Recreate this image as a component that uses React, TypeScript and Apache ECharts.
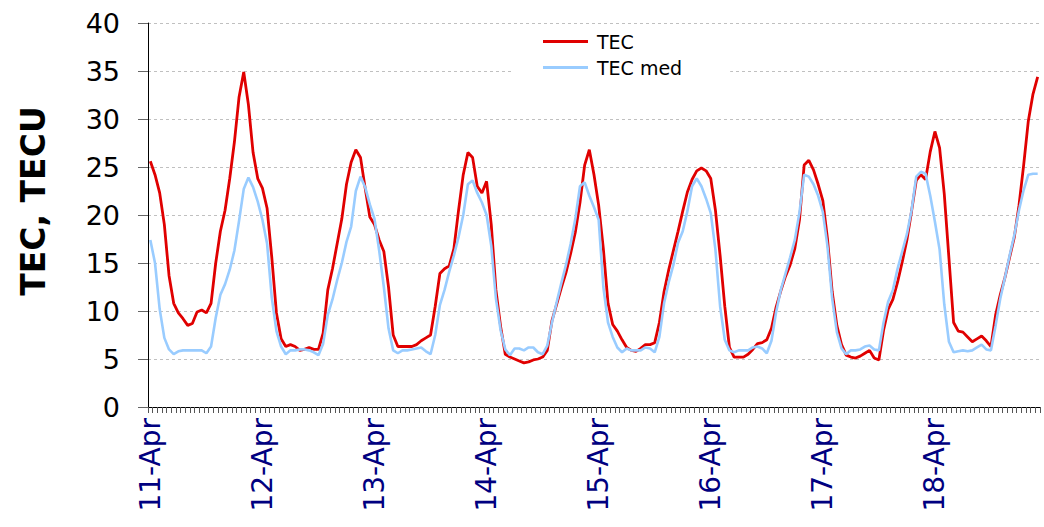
import React, { useEffect, useRef } from "react";
import * as echarts from "echarts";

const DAYS = ["11-Apr", "12-Apr", "13-Apr", "14-Apr", "15-Apr", "16-Apr", "17-Apr", "18-Apr"];
const Y_TICKS = [0, 5, 10, 15, 20, 25, 30, 35, 40];

// Hourly TEC values (TECU)
const TEC = [
  25.6, 24.2, 22.3, 19.0, 13.7, 10.8, 9.8, 9.2, 8.5, 8.7, 9.9, 10.1, 9.8, 10.8, 15.0, 18.3, 20.5, 23.8, 27.6, 32.3, 34.9, 31.5, 26.5, 23.8,
  22.8, 20.7, 15.6, 9.8, 7.1, 6.3, 6.5, 6.3, 5.9, 6.0, 6.2, 6.0, 6.0, 7.7, 12.2, 14.4, 17.0, 19.6, 23.2, 25.5, 26.8, 26.0, 22.8, 19.8,
  19.0, 17.4, 16.2, 12.5, 7.5, 6.3, 6.3, 6.3, 6.3, 6.5, 6.9, 7.2, 7.5, 10.5, 13.9, 14.4, 14.7, 16.5, 20.5, 24.2, 26.5, 26.0, 23.0, 22.3,
  23.5, 19.0, 12.2, 8.4, 5.5, 5.2, 5.0, 4.8, 4.6, 4.7, 4.9, 5.0, 5.2, 5.9, 9.0, 10.7, 12.4, 14.0, 16.0, 18.2, 21.3, 25.2, 26.8, 24.2,
  21.0, 16.5, 10.8, 8.6, 7.9, 7.0, 6.2, 5.9, 5.8, 6.1, 6.5, 6.5, 6.7, 8.8, 12.0, 14.3, 16.3, 18.3, 20.4, 22.4, 23.7, 24.6, 24.9, 24.6,
  23.8, 20.5, 15.8, 10.5, 6.2, 5.2, 5.2, 5.2, 5.5, 6.0, 6.6, 6.7, 7.0, 8.2, 10.4, 12.1, 13.6, 14.8, 16.5, 19.5, 25.2, 25.7, 24.7, 23.2,
  21.5, 17.5, 12.0, 8.5, 6.5, 5.4, 5.2, 5.1, 5.3, 5.6, 5.9, 5.1, 4.9, 8.0, 10.2, 11.2, 13.0, 15.1, 17.4, 20.4, 23.6, 24.2, 23.7, 26.6,
  28.7, 27.0, 22.2, 15.5, 8.8, 7.9, 7.8, 7.3, 6.8, 7.1, 7.4, 6.9, 6.3, 9.6, 11.7, 13.5, 15.6, 17.7, 21.0, 25.2, 29.8, 32.6, 34.4,
];

// Hourly median TEC values (TECU)
const TEC_MED = [
  17.4, 15.0, 10.2, 7.2, 6.0, 5.5, 5.8, 5.9, 5.9, 5.9, 5.9, 5.9, 5.6, 6.3, 9.3, 11.7, 12.8, 14.3, 16.3, 19.4, 22.7, 23.9, 22.9, 21.4,
  19.5, 17.0, 11.4, 7.9, 6.3, 5.5, 5.9, 5.9, 6.0, 6.0, 5.9, 5.7, 5.4, 6.6, 9.6, 11.2, 13.2, 15.0, 17.2, 18.8, 22.5, 24.0, 22.9, 21.1,
  19.6, 16.3, 12.5, 8.2, 5.9, 5.6, 5.9, 5.9, 6.0, 6.1, 6.2, 5.8, 5.5, 7.5, 10.6, 12.2, 14.1, 15.8, 17.7, 20.0, 23.2, 23.6, 22.3, 21.3,
  20.0, 16.8, 11.3, 8.0, 6.0, 5.4, 6.1, 6.1, 5.9, 6.2, 6.2, 5.7, 5.5, 6.4, 8.8, 10.9, 12.9, 14.8, 17.0, 19.6, 23.0, 23.4, 22.0, 20.8,
  19.5, 12.5, 8.8, 7.3, 6.2, 5.7, 6.1, 5.9, 5.9, 5.9, 6.2, 6.1, 5.7, 7.3, 10.8, 13.0, 14.8, 17.1, 18.3, 20.4, 23.0, 23.8, 23.0, 21.7,
  20.2, 16.4, 10.5, 7.0, 5.9, 5.7, 5.9, 5.9, 5.9, 6.2, 6.3, 6.1, 5.6, 6.9, 9.9, 12.2, 13.9, 15.6, 17.4, 20.3, 24.2, 24.0, 23.2, 22.0,
  20.3, 16.7, 11.3, 7.8, 6.1, 5.5, 5.9, 5.9, 6.0, 6.3, 6.4, 6.0, 5.9, 8.8, 11.0, 12.2, 14.4, 16.2, 18.0, 20.5, 24.0, 24.5, 24.3, 22.0,
  19.3, 16.4, 10.7, 6.8, 5.7, 5.8, 5.9, 5.8, 5.9, 6.2, 6.5, 6.0, 5.9, 8.5, 11.3, 13.5, 15.8, 17.9, 20.5, 22.6, 24.2, 24.3, 24.3,
];

const HOURS_PER_DAY = 24;
const CATEGORIES = DAYS.flatMap((d) =>
  Array.from({ length: HOURS_PER_DAY }, (_, h) => `${d} ${h}:00`)
).slice(0, TEC.length);

export default function App() {
  const ref = useRef<HTMLDivElement>(null);

  useEffect(() => {
    if (!ref.current) return;
    const chart = echarts.init(ref.current, null, { renderer: "svg" });
    const FONT = "'DejaVu Sans', Arial, sans-serif";
    chart.setOption({
      animation: false,
      backgroundColor: "#ffffff",
      grid: { left: 148, right: 4, top: 23, bottom: 120, containLabel: false },
      legend: {
        orient: "vertical",
        left: 512,
        top: 27,
        padding: [5, 48, 10, 31],
        backgroundColor: "#ffffff",
        itemWidth: 45,
        itemHeight: 3,
        itemGap: 7,
        icon: "rect",
        textStyle: { fontSize: 19, fontFamily: FONT, color: "#000", padding: [0, 0, 0, 4] },
        data: ["TEC", "TEC med"],
      },
      graphic: [
        {
          type: "text",
          x: 33,
          y: 201,
          rotation: Math.PI / 2,
          style: {
            text: "TEC, TECU",
            fontSize: 33,
            fontWeight: "bold",
            fontFamily: FONT,
            fill: "#000",
            align: "center",
            verticalAlign: "middle",
          },
        },
      ],
      xAxis: {
        type: "category",
        data: CATEGORIES,
        boundaryGap: true,
        axisLine: { lineStyle: { color: "#000", width: 1 } },
        axisTick: { show: true, interval: 0, length: 6, lineStyle: { color: "#555" } },
        axisLabel: {
          interval: HOURS_PER_DAY - 1,
          rotate: 90,
          margin: 11,
          fontSize: 28,
          fontFamily: FONT,
          color: "#000080",
          padding: [9, 0, 0, 0],
          formatter: (v: string) => v.split(" ")[0],
        },
        splitLine: { show: false },
      },
      yAxis: {
        type: "value",
        min: Y_TICKS[0],
        max: Y_TICKS[Y_TICKS.length - 1],
        interval: Y_TICKS[1] - Y_TICKS[0],
        axisLine: { show: true, lineStyle: { color: "#000", width: 1 } },
        axisTick: { show: true, length: 10, lineStyle: { color: "#666" } },
        axisLabel: { margin: 28, fontSize: 27, fontFamily: FONT, color: "#000" },
        splitLine: { show: true, lineStyle: { color: "#c0c0c0", type: [3, 3], width: 1 } },
      },
      series: [
        {
          name: "TEC",
          type: "line",
          data: TEC,
          color: "#e00000",
          showSymbol: false,
          symbol: "none",
          lineStyle: { color: "#e00000", width: 2.8 },
        },
        {
          name: "TEC med",
          type: "line",
          data: TEC_MED,
          color: "#99ccff",
          showSymbol: false,
          symbol: "none",
          lineStyle: { color: "#99ccff", width: 2.6 },
        },
      ],
    });
    return () => chart.dispose();
  }, []);

  return (
    <div
      ref={ref}
      style={{ position: "fixed", left: 0, top: 0, width: 1044, height: 527 }}
    />
  );
}
